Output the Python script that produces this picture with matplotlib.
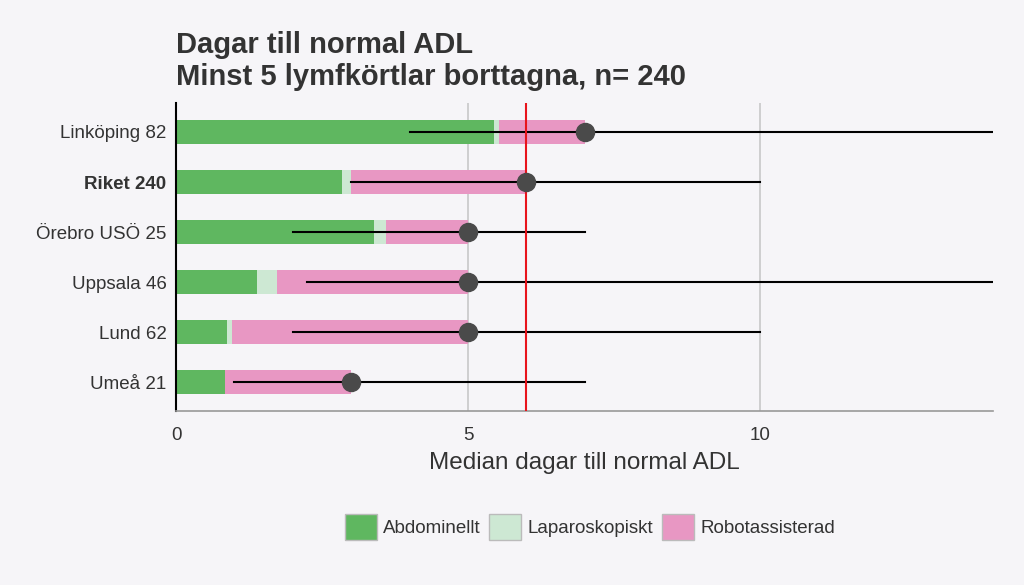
import numpy as np
import matplotlib.pyplot as plt
from matplotlib.patches import Patch

plt.rcParams["font.family"] = ["Liberation Sans", "DejaVu Sans"]

labels = ["Linköping 82", "Riket 240", "Örebro USÖ 25", "Uppsala 46", "Lund 62", "Umeå 21"]
abdominellt = [5.44, 2.84, 3.39, 1.39, 0.88, 0.84]
laparoskopiskt = [0.10, 0.16, 0.20, 0.34, 0.08, 0.0]
robot = [1.46, 3.00, 1.41, 3.27, 4.04, 2.16]
median = [7, 6, 5, 5, 5, 3]
low = [4, 3, 2, 2.25, 2, 1]
high = [14, 10, 7, 14, 10, 7]
riket_median = 6

bg = "#f6f5f8"
c_abd = "#5fb760"
c_lap = "#cde8d3"
c_rob = "#e897c3"


def main():
    fig = plt.figure(figsize=(10.24, 5.85), dpi=100, facecolor=bg)
    ax = fig.add_axes([0.172, 0.297, 0.798, 0.527], facecolor=bg)

    y = np.arange(len(labels))
    abd = np.array(abdominellt)
    lap = np.array(laparoskopiskt)
    rob = np.array(robot)

    ax.barh(y, abd, height=0.48, color=c_abd, zorder=2)
    ax.barh(y, lap, left=abd, height=0.48, color=c_lap, zorder=2)
    ax.barh(y, rob, left=abd + lap, height=0.48, color=c_rob, zorder=2)

    for i in range(len(labels)):
        ax.plot([low[i], high[i]], [y[i], y[i]], color="black", lw=1.5, zorder=3)
    ax.plot(median, y, "o", color="#4a4a4a", markersize=13, zorder=4)

    ax.axvline(riket_median, color="#e8141c", lw=1.5, zorder=3)

    ax.set_xlim(0, 14)
    ax.set_ylim(5.58, -0.58)
    ax.set_xticks([0, 5, 10])
    ax.set_xticklabels(["0", "5", "10"], fontsize=13.5, color="#333333")
    ax.set_yticks(y)
    ax.set_yticklabels(labels, fontsize=13.5, color="#333333")
    ax.get_yticklabels()[1].set_fontweight("bold")
    ax.tick_params(axis="y", length=0, pad=7)
    ax.tick_params(axis="x", length=0, pad=11)
    ax.grid(axis="x", color="#c8c8c8", lw=1.2, zorder=0)
    ax.set_axisbelow(True)

    for s in ["top", "right"]:
        ax.spines[s].set_visible(False)
    ax.spines["left"].set_color("black")
    ax.spines["left"].set_linewidth(1.5)
    ax.spines["bottom"].set_color("#999999")
    ax.spines["bottom"].set_linewidth(1.2)

    ax.set_xlabel("Median dagar till normal ADL", fontsize=17.5, color="#333333", labelpad=6)

    fig.text(0.172, 0.845, "Dagar till normal ADL\nMinst 5 lymfkörtlar borttagna, n= 240",
             fontsize=21, fontweight="bold", color="#333333", ha="left", va="bottom",
             linespacing=1.15)

    handles = [
        Patch(facecolor=c_abd, edgecolor="#bbbbbb", label="Abdominellt"),
        Patch(facecolor=c_lap, edgecolor="#bbbbbb", label="Laparoskopiskt"),
        Patch(facecolor=c_rob, edgecolor="#bbbbbb", label="Robotassisterad"),
    ]
    fig.legend(handles=handles, loc="center", bbox_to_anchor=(0.576, 0.099), ncol=3,
               frameon=False, fontsize=13.5, handlelength=1.7, handleheight=1.7,
               handletextpad=0.35, columnspacing=0.45, labelcolor="#333333")

    fig.savefig("out.png", dpi=100, facecolor=bg)


if __name__ == "__main__":
    main()
